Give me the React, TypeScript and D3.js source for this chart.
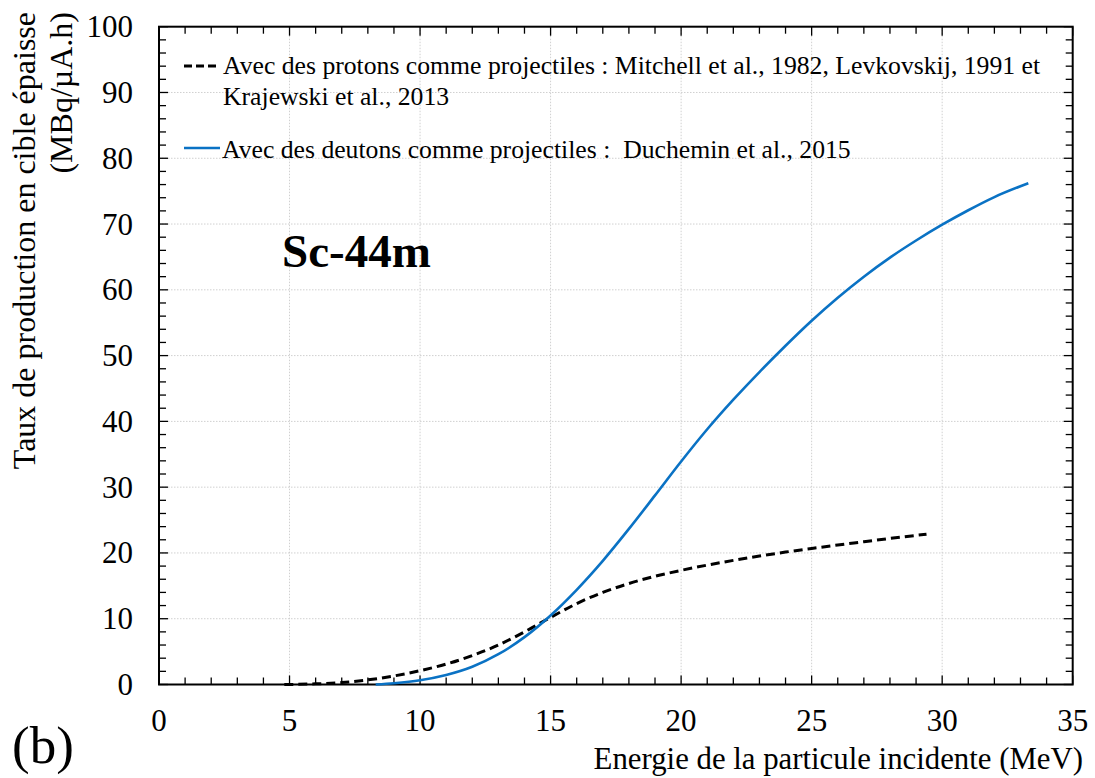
import React from "react";
import * as d3 from "d3";

const protonE = [4.8, 6, 7, 8, 9, 10, 11, 12, 13, 14, 15, 16, 17, 18, 19, 20, 21, 22, 23, 24, 25, 26, 27, 28, 29.4];
const protonY = [0, 0.1, 0.3, 0.7, 1.3, 2.1, 3.1, 4.4, 6.0, 8.0, 10.2, 12.3, 14.0, 15.35, 16.45, 17.35, 18.15, 18.87, 19.53, 20.13, 20.68, 21.2, 21.7, 22.2, 22.85];

const deutonE = [8.3, 9, 10, 11, 12, 13, 14, 15, 16, 17, 18, 19, 20, 21, 22, 23, 24, 25, 26, 27, 28, 29, 30, 31, 32, 33.3];
const deutonY = [0, 0.2, 0.65, 1.45, 2.7, 4.6, 7.2, 10.5, 14.4, 18.8, 23.65, 28.75, 33.9, 38.8, 43.3, 47.5, 51.5, 55.3, 58.8, 62.0, 64.9, 67.5, 69.9, 72.1, 74.1, 76.2];

const xTicks = [0, 5, 10, 15, 20, 25, 30, 35];
const yTicks = [0, 10, 20, 30, 40, 50, 60, 70, 80, 90, 100];

const legendProtons1 = "Avec des protons comme projectiles : Mitchell et al., 1982, Levkovskij, 1991 et";
const legendProtons2 = "Krajewski et al., 2013";
const legendDeutons = "Avec des deutons comme projectiles :  Duchemin et al., 2015";

const FONT = "Liberation Serif, Times New Roman, DejaVu Serif, serif";
const BLUE = "#0a72c4";

export default function App() {
  const W = 1095, H = 778;
  const L = 159, R = 1072.7, T = 26.7, B = 684.5;
  const x = d3.scaleLinear().domain([0, 35]).range([L, R]);
  const y = d3.scaleLinear().domain([0, 100]).range([B, T]);
  const line = d3
    .line<[number, number]>()
    .x((d) => x(d[0]))
    .y((d) => y(d[1]))
    .curve(d3.curveMonotoneX);
  const pData = protonE.map((e, i) => [e, protonY[i]] as [number, number]);
  const dData = deutonE.map((e, i) => [e, deutonY[i]] as [number, number]);
  const xMinor = d3.range(0, 36, 1);
  const yMinor = d3.range(0, 101, 2);
  const ts = (size: number, weight: string = "normal") => ({ fontFamily: FONT, fontSize: size, fontWeight: weight as any });

  return (
    <svg width={W} height={H} style={{ position: "absolute", left: 0, top: 0, background: "#fff" }}>
      <rect x={0} y={0} width={W} height={H} fill="#fff" />
      {xTicks.slice(1, -1).map((t) => (
        <line key={"gx" + t} x1={x(t)} x2={x(t)} y1={T} y2={B} stroke="#d0d0d0" strokeWidth={1} strokeDasharray="1.5,1.5" />
      ))}
      {yTicks.slice(1, -1).map((t) => (
        <line key={"gy" + t} x1={L} x2={R} y1={y(t)} y2={y(t)} stroke="#d0d0d0" strokeWidth={1} strokeDasharray="1.5,1.5" />
      ))}
      {xMinor.map((t) => {
        const len = t % 5 === 0 ? 9 : 7;
        return (
          <g key={"tx" + t}>
            <line x1={x(t)} x2={x(t)} y1={B} y2={B - len} stroke="#000" strokeWidth={1.3} />
            <line x1={x(t)} x2={x(t)} y1={T} y2={T + len} stroke="#000" strokeWidth={1.3} />
          </g>
        );
      })}
      {yMinor.map((t) => {
        const len = t % 10 === 0 ? 9 : 7;
        return (
          <g key={"ty" + t}>
            <line x1={L} x2={L + len} y1={y(t)} y2={y(t)} stroke="#000" strokeWidth={1.3} />
            <line x1={R} x2={R - len} y1={y(t)} y2={y(t)} stroke="#000" strokeWidth={1.3} />
          </g>
        );
      })}
      <rect x={L} y={T} width={R - L} height={B - T} fill="none" stroke="#000" strokeWidth={2} />
      {xTicks.map((t) => (
        <text key={"lx" + t} x={x(t)} y={731} style={ts(31)} textAnchor="middle" fill="#000">
          {t}
        </text>
      ))}
      {yTicks.map((t) => (
        <text key={"ly" + t} x={133} y={y(t) + 10.5} style={ts(31)} textAnchor="end" fill="#000">
          {t}
        </text>
      ))}
      <text x={1083} y={769} style={ts(30.8)} textAnchor="end" fill="#000">
        Energie de la particule incidente (MeV)
      </text>
      <g transform="translate(35,12) rotate(-90)">
        <text x={0} y={0} style={ts(32)} textAnchor="end" fill="#000">
          Taux de production en cible épaisse
        </text>
        <text x={0} y={37} style={ts(32)} textAnchor="end" fill="#000">
          (MBq/µA.h)
        </text>
      </g>
      <path d={line(pData) || ""} fill="none" stroke="#000" strokeWidth={3} strokeDasharray="9,5" />
      <path d={line(dData) || ""} fill="none" stroke={BLUE} strokeWidth={2.6} />
      <line x1={184} x2={216} y1={66} y2={66} stroke="#000" strokeWidth={3} strokeDasharray="8,4" />
      <text x={223} y={74} style={ts(25.7)} fill="#000">{legendProtons1}</text>
      <text x={223} y={104.5} style={ts(25.7)} fill="#000">{legendProtons2}</text>
      <line x1={184} x2={220} y1={148} y2={148} stroke={BLUE} strokeWidth={2.6} />
      <text x={222} y={157.5} style={ts(25.7)} fill="#000" xmlSpace="preserve">{legendDeutons}</text>
      <text x={282} y={267} style={ts(47, "bold")} fill="#000">Sc-44m</text>
      <text x={12} y={763} style={ts(53)} fill="#000">(b)</text>
    </svg>
  );
}
